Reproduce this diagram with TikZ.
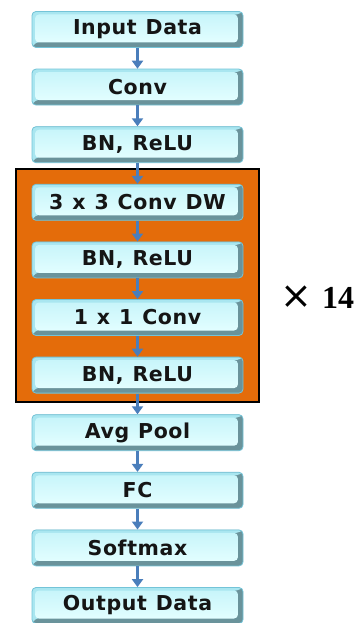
\documentclass[tikz,border=0pt]{standalone}
\usepackage{fontspec}
\setmainfont{DejaVu Sans}
\newfontfamily\serifx{Liberation Serif}
\newfontfamily\crossfont{DejaVu Sans}
\newfontfamily\labfont[LetterSpace=3,WordSpace=1.15]{DejaVu Sans Bold}
\usetikzlibrary{arrows.meta}
\definecolor{bevdark}{HTML}{6A939B}
\definecolor{bevlight}{HTML}{A9E6F0}
\definecolor{edgecol}{HTML}{74C4D8}
\definecolor{facetop}{HTML}{C8F5FA}
\definecolor{facebot}{HTML}{E2FEFF}
\definecolor{orangefill}{HTML}{E46C0A}
\definecolor{arrowblue}{HTML}{4A7EBB}
\definecolor{txt}{HTML}{151515}
\tikzset{
  layer/.style={minimum width=211pt, minimum height=36pt, inner sep=0pt,
    rounded corners=4pt, fill=bevdark, draw=edgecol, line width=0.8pt,
    font=\fontsize{20.5}{20.5}\labfont, text=txt,
    path picture={
      \fill[bevlight] (path picture bounding box.south west) -- (path picture bounding box.north west)
        -- (path picture bounding box.north east) -- ([xshift=-5pt,yshift=-3pt]path picture bounding box.north east)
        -- ([xshift=3pt,yshift=5pt]path picture bounding box.south west) -- cycle;
      \shade[top color=facetop, bottom color=facebot]
        ([xshift=3pt,yshift=5pt]path picture bounding box.south west) rectangle
        ([xshift=-5pt,yshift=-3pt]path picture bounding box.north east);
    }},
  flow/.style={draw=arrowblue, line width=3pt, -{Triangle[length=8pt,width=11pt]}},
}
\begin{document}
\begin{tikzpicture}[x=1pt,y=1pt]
\useasboundingbox (0,0) rectangle (355,-623);
\fill[white] (0,0) rectangle (355,-623);
\node[draw=black, line width=2pt, fill=orangefill, minimum width=243pt, minimum height=233pt, inner sep=0pt] (block) at (137.5,-285.5) {};
\node[layer] (in) at (137.5,-29.5) {Input Data};
\node[layer] (conv) at (137.5,-87.1) {Conv};
\node[layer] (bn1) at (137.5,-144.7) {BN, ReLU};
\node[layer] (dw) at (137.5,-202.3) {3 x 3 Conv DW};
\node[layer] (bn2) at (137.5,-259.9) {BN, ReLU};
\node[layer] (pw) at (137.5,-317.5) {1 x 1 Conv};
\node[layer] (bn3) at (137.5,-375.1) {BN, ReLU};
\node[layer] (pool) at (137.5,-432.7) {Avg Pool};
\node[layer] (fc) at (137.5,-490.3) {FC};
\node[layer] (sm) at (137.5,-547.9) {Softmax};
\node[layer] (out) at (137.5,-605.5) {Output Data};
\node[anchor=west, inner sep=0pt, text=black] (rep) at (280,-297) {{\fontsize{38}{38}\selectfont\crossfont ×}\hspace{10pt}{\fontsize{32}{32}\selectfont\serifx\bfseries 14}};
\foreach \a/\b in {in/conv, conv/bn1, bn1/dw, dw/bn2, bn2/pw, pw/bn3, bn3/pool, pool/fc, fc/sm, sm/out}
  \draw[flow] (\a.south) -- (\b.north);
\end{tikzpicture}
\end{document}
